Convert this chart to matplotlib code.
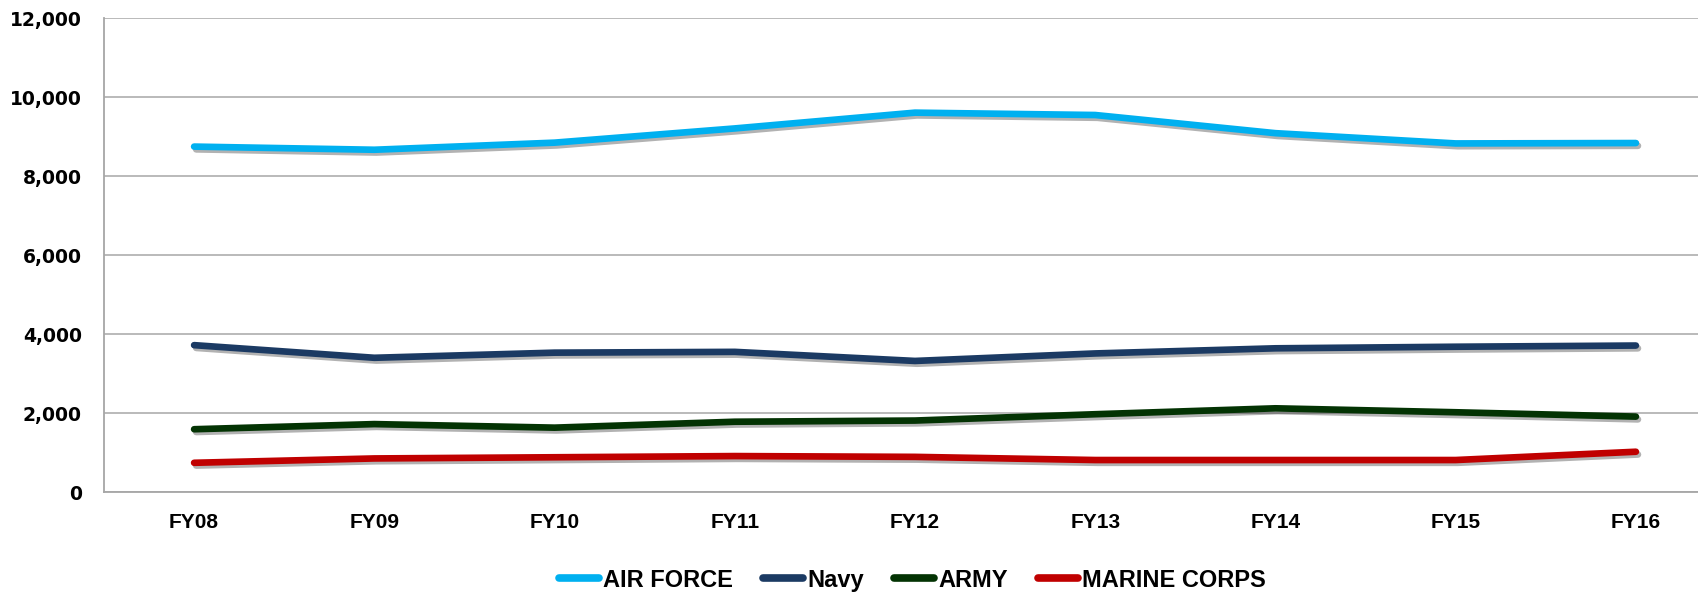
import matplotlib
matplotlib.use('Agg')
import matplotlib.pyplot as plt
import matplotlib.patheffects as pe
from matplotlib.ticker import FuncFormatter


# values
years = ['FY08', 'FY09', 'FY10', 'FY11', 'FY12', 'FY13', 'FY14', 'FY15', 'FY16']
air_force = [8750, 8670, 8850, 9210, 9610, 9550, 9090, 8830, 8840]
navy = [3720, 3400, 3530, 3550, 3320, 3510, 3640, 3680, 3710]
army = [1590, 1720, 1630, 1780, 1810, 1970, 2120, 2020, 1910]
marine_corps = [740, 850, 880, 910, 890, 810, 810, 810, 1020]

series = [
    ('AIR FORCE', air_force, '#00B0F0'),
    ('Navy', navy, '#1B3A63'),
    ('ARMY', army, '#033303'),
    ('MARINE CORPS', marine_corps, '#C00000'),
]

fig = plt.figure(figsize=(16.99, 5.92), dpi=100)
# plot area runs past the right edge, as in the original crop
ax = fig.add_axes([104 / 1699, 1 - 492 / 592, (1726 - 104) / 1699, (492 - 18.3) / 592])

x = list(range(len(years)))
shadow = [pe.SimpleLineShadow(offset=(1.5, -2), alpha=0.3), pe.Normal()]
for name, vals, col in series:
    ax.plot(x, vals, color=col, lw=4.8, solid_capstyle='round',
            solid_joinstyle='round', label=name, path_effects=shadow)

ax.set_xlim(-0.5, 8.5)
ax.set_ylim(0, 12000)
ax.set_yticks(range(0, 12001, 2000))
ax.yaxis.set_major_formatter(FuncFormatter(lambda v, p: f'{int(v):,}'))
ax.set_xticks(x)
ax.set_xticklabels(years)

ax.grid(axis='y', color='#b4b4b4', lw=1.3)
ax.set_axisbelow(True)
for s in ['top', 'right']:
    ax.spines[s].set_visible(False)
for s in ['left', 'bottom']:
    ax.spines[s].set_color('#a6a6a6')
    ax.spines[s].set_linewidth(1.3)

ax.tick_params(axis='y', length=0, pad=16)
ax.tick_params(axis='x', length=0, pad=15)
for t in ax.get_yticklabels():
    t.set_fontfamily('DejaVu Sans')
    t.set_fontweight('bold')
    t.set_fontsize(13.5)
for t in ax.get_xticklabels():
    t.set_fontfamily('Liberation Sans')
    t.set_fontweight('bold')
    t.set_fontsize(15)

leg = fig.legend(loc='center', bbox_to_anchor=(0.537, 0.02), ncol=4, frameon=False,
                 handlelength=1.7, handletextpad=0.15, columnspacing=1.3,
                 prop={'family': 'Liberation Sans', 'weight': 'bold', 'size': 17})
for h in leg.get_lines():
    h.set_linewidth(5.5)
    h.set_path_effects([])

fig.savefig('out.png', dpi=100)
